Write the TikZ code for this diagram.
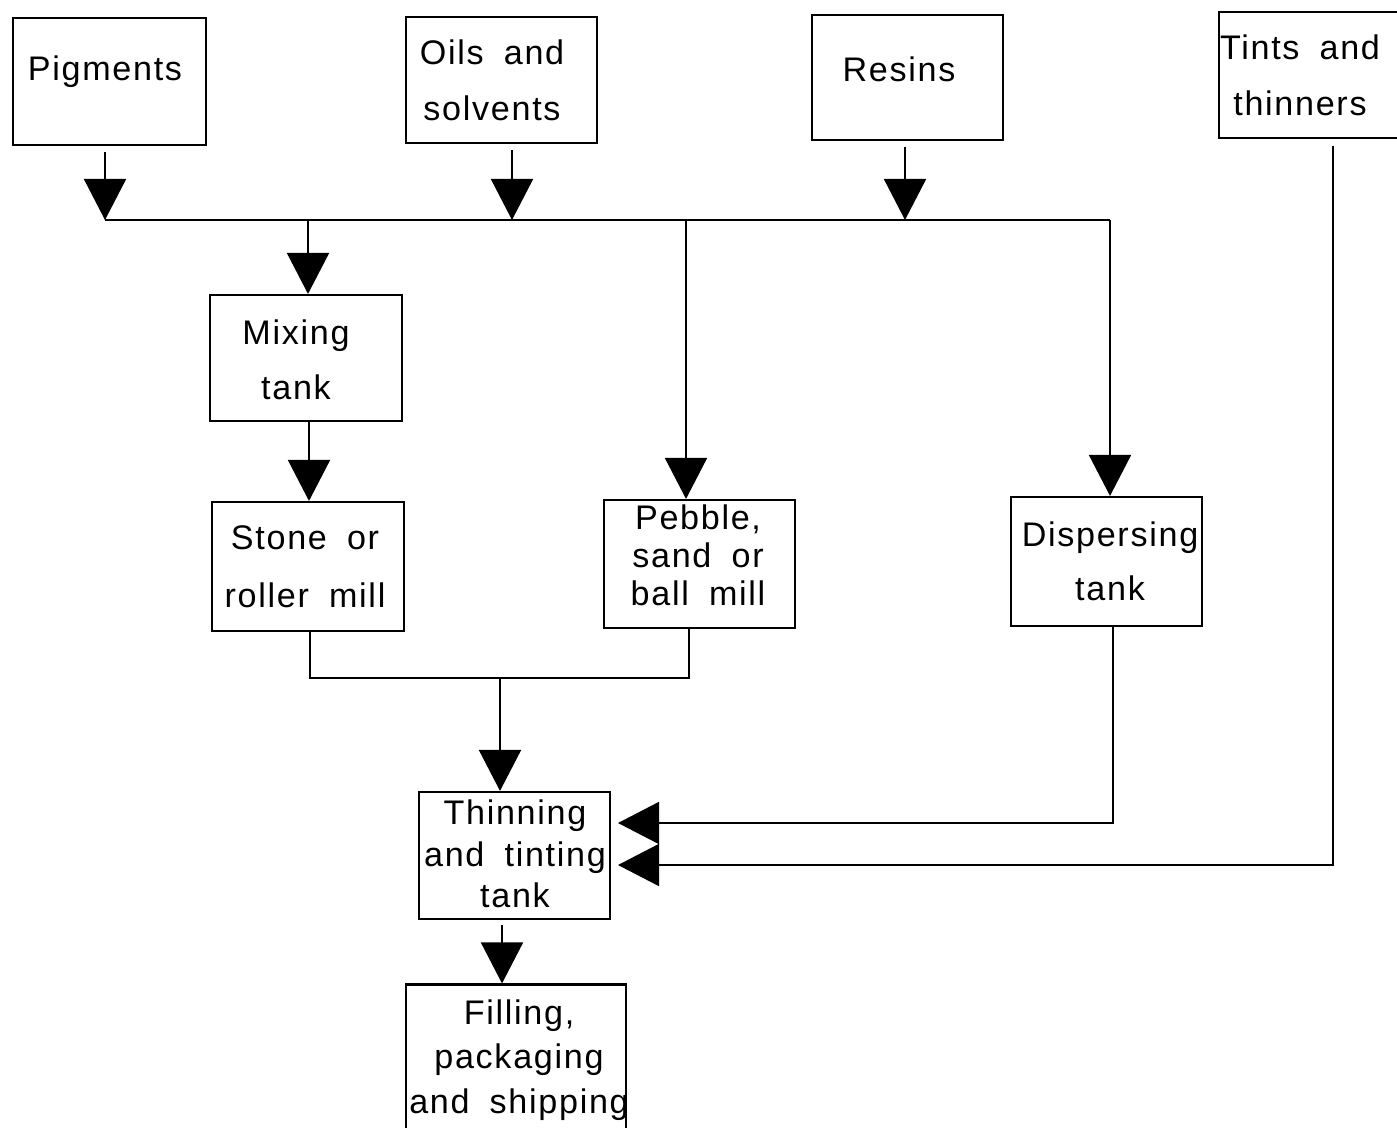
\documentclass[tikz,border=0pt]{standalone}
\usepackage{fontspec}
\setmainfont{Liberation Sans}[LetterSpace=5,WordSpace=1.8]
\usetikzlibrary{arrows.meta}

\tikzset{
	box/.style={draw, line width=0.6pt, inner sep=0pt},
	flow/.style={line width=0.5pt, -{Triangle[length=0.41cm, width=0.42cm]}},
	wire/.style={line width=0.5pt},
}

\begin{document}
\begin{tikzpicture}[x=0.01cm, y=-0.01cm]
	\useasboundingbox (0,0) rectangle (1397,1127);

%boxes
	\foreach \name/\x/\y/\w/\h in {pigm/109.5/81.5/193/127, oils/501.5/80/191/126, resin/907.5/77.5/191/125, tints/1314.5/75/191/126, mix/306/358/192/126, stone/308/566.5/192/129, pebble/699.5/564/191/128, disp/1106.5/561.5/191/129, thin/514.5/855.5/191/127, fill/516/1062/220/155}{
		\node[box, minimum width=\w*0.01cm, minimum height=\h*0.01cm] (\name) at (\x,\y) {};
	}

%texts
	\foreach \name/\x/\y/\ls/\txt in {
		{pigm/105/72/12pt/Pigments},
		{oils/492/80/15.9pt/{Oils and\\solvents}},
		{resin/899/69/12pt/Resins},
		{tints/1300/75/15.9pt/{Tints and\\thinners}},
		{mix/296/359.5/15.6pt/{Mixing\\tank}},
		{stone/305/567/16.5pt/{Stone or\\roller mill}},
		{pebble/698/555/10.8pt/{Pebble,\\sand or\\ball mill}},
		{disp/1110/561/15.4pt/{Dispersing\\tank}},
		{thin/515/854/11.8pt/{Thinning\\and tinting\\tank}},
		{fill/519/1060/12.7pt/{Filling,\\packaging\\and shipping}}}{
		\node[font=\fontsize{9.7}{\ls}\selectfont, align=center, inner sep=0pt] (\name-t) at (\x,\y) {\txt};
	}

%inputs and bus
	\coordinate (b1) at (105,220);
	\coordinate (b2) at (512,220);
	\coordinate (b3) at (905,220);
	\coordinate (bm) at (308,220);
	\coordinate (bp) at (686,220);
	\coordinate (bd) at (1110,220);

	\foreach \n/\c in {pigm/b1, oils/b2, resin/b3}{
		\draw[flow, shorten <=0.06cm] (\n.south -| \c) -- (\c);
	}
	\draw[wire] (b1) -- (bd);

	\foreach \c/\n in {bm/mix, bp/pebble, bd/disp}{
		\draw[flow] (\c) -- (\c |- \n.north);
	}

%mills
	\coordinate (ms) at (309,421);
	\draw[flow] (ms |- mix.south) -- (ms |- stone.north);

	\coordinate (jm) at (500,678);
	\coordinate (sm) at (310,678);
	\coordinate (pm) at (689,678);
	\draw[wire] (sm |- stone.south) -- (sm) -- (pm) -- (pm |- pebble.south);
	\draw[flow] (jm) -- (jm |- thin.north);

%into thinning
	\coordinate (dd) at (1113,823);
	\coordinate (td) at (618,823);
	\draw[flow] (dd |- disp.south) -- (dd) -- (td);

	\coordinate (tt) at (1333,865);
	\coordinate (ti) at (618,865);
	\draw[flow, shorten <=0.07cm] (tt |- tints.south) -- (tt) -- (ti);

%out
	\coordinate (tf) at (502,985);
	\draw[flow, shorten <=0.05cm] (tf |- thin.south) -- (tf |- fill.north);

\end{tikzpicture}
\end{document}
